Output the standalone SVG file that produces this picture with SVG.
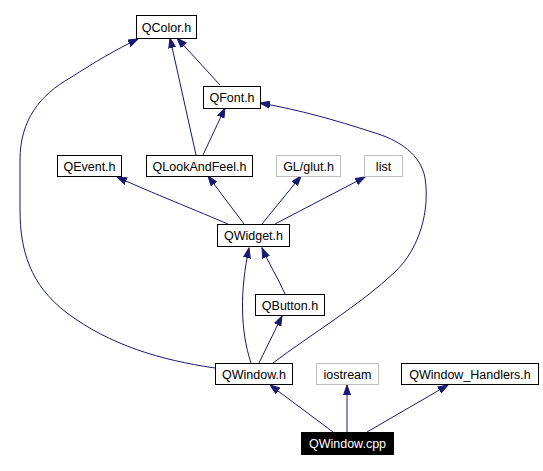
<svg xmlns="http://www.w3.org/2000/svg" width="543" height="471" viewBox="0 0 543 471">
<defs>
<marker id="ah" markerWidth="11" markerHeight="8" refX="10" refY="4" orient="auto" markerUnits="userSpaceOnUse">
<path d="M0,0.5 L10,4 L0,7.5 Z" fill="#191970" stroke="#191970" stroke-width="1"/>
</marker>
<style>
.e{fill:none;stroke:#191970;stroke-width:1;marker-end:url(#ah)}
.n rect{fill:#fff;stroke:#000;stroke-width:1}
.g rect{fill:#fff;stroke:#bfbfbf;stroke-width:1}
text{font-family:"Liberation Sans",Arial,sans-serif;font-size:12.5px;text-anchor:middle;fill:#000}
.r rect{fill:#000;stroke:#000}
.r text{fill:#fff}
</style>
</defs>
<rect width="543" height="471" fill="#fff"/>
<g id="edges">
<path class="e" d="M333,432 L270,385"/>
<path class="e" d="M347,432 L347,385"/>
<path class="e" d="M367,432 L448,385"/>
<path class="e" d="M259,363 L282,316"/>
<path class="e" d="M251,363 C240,330 240,290 249,248"/>
<path class="e" d="M273,363 C310,335 360,305 395,272 C420,248 430,210 425,178 C421,155 400,140 372,132 C335,120 300,110 260,103"/>
<path class="e" d="M215,368 C160,360 110,345 67,313 C30,285 20,250 20,210 L20,160 C20,120 40,95 70,78 C95,62 115,50 138,39"/>
<path class="e" d="M228,224 C200,212 150,192 117,177"/>
<path class="e" d="M244,224 L208,176"/>
<path class="e" d="M262,224 L301,176"/>
<path class="e" d="M275,224 L365,177"/>
<path class="e" d="M285,294 C278,278 268,262 262,248"/>
<path class="e" d="M203,155 L225,108"/>
<path class="e" d="M196,155 L170,38"/>
<path class="e" d="M220,85 L177,38"/>
</g>
<g id="QColor" class="n"><rect x="136.5" y="15.5" width="60" height="23"/><text x="166.5" y="31.5">QColor.h</text></g>
<g id="QFont" class="n"><rect x="203.5" y="86.5" width="57" height="22"/><text x="232" y="102">QFont.h</text></g>
<g id="QEvent" class="n"><rect x="57.5" y="155.5" width="64" height="21"/><text x="89.5" y="170.5">QEvent.h</text></g>
<g id="QLookAndFeel" class="n"><rect x="146.5" y="155.5" width="106" height="21"/><text x="199.5" y="170.5">QLookAndFeel.h</text></g>
<g id="GLglut" class="g"><rect x="276.5" y="155.5" width="64" height="21"/><text x="308.5" y="170.5">GL/glut.h</text></g>
<g id="list" class="g"><rect x="364.5" y="155.5" width="38" height="21"/><text x="383.5" y="170.5">list</text></g>
<g id="QWidget" class="n"><rect x="217.5" y="224.5" width="72" height="22"/><text x="253.5" y="240">QWidget.h</text></g>
<g id="QButton" class="n"><rect x="255.5" y="294.5" width="69" height="21"/><text x="290" y="309.5">QButton.h</text></g>
<g id="QWindowH" class="n"><rect x="215.5" y="363.5" width="77" height="21"/><text x="254" y="378.5">QWindow.h</text></g>
<g id="iostream" class="g"><rect x="316.5" y="363.5" width="62" height="21"/><text x="347.5" y="378.5">iostream</text></g>
<g id="QWindowHandlers" class="n"><rect x="401.5" y="363.5" width="137" height="21"/><text x="470" y="378.5">QWindow_Handlers.h</text></g>
<g id="QWindowCpp" class="r"><rect x="301.5" y="432.5" width="92" height="22"/><text x="347.5" y="448">QWindow.cpp</text></g>
</svg>
